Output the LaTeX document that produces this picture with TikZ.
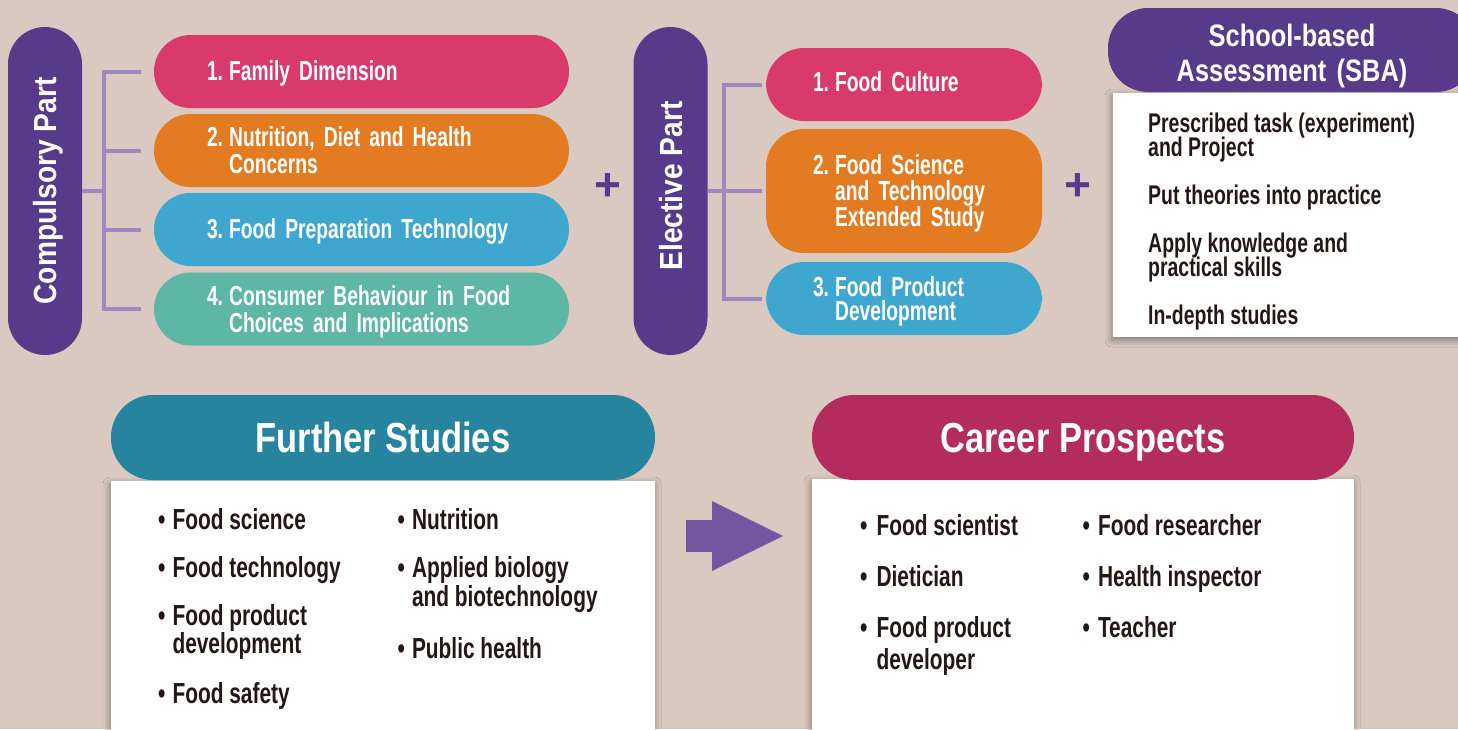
\documentclass[tikz,border=0pt]{standalone}
\usepackage{fontspec}
\usepackage{array}
\setmainfont{Liberation Sans}
\newfontfamily\pillfont{Liberation Sans}[FakeStretch=0.70, WordSpace=0.85]
\newfontfamily\condfont{Liberation Sans}[FakeStretch=0.72]
\newfontfamily\headfont{Liberation Sans}[FakeStretch=0.82]
\newfontfamily\sidefont{Liberation Sans}[FakeStretch=0.88]
\usetikzlibrary{arrows.meta,calc,shadows.blur}

\definecolor{paper}{HTML}{D9C9C0}
\definecolor{partpurple}{HTML}{573A8A}
\definecolor{linkpurple}{HTML}{9D89C0}
\definecolor{itempink}{HTML}{D83A6C}
\definecolor{itemorange}{HTML}{E27B21}
\definecolor{itemblue}{HTML}{3FA7CF}
\definecolor{itemteal}{HTML}{5DB6A6}
\definecolor{studyteal}{HTML}{26849F}
\definecolor{careerred}{HTML}{B42B5D}
\definecolor{arrowpurple}{HTML}{7355A0}
\definecolor{ink}{HTML}{231815}

% left column whose cells take no height, so rows sit exactly one leading apart
\newcolumntype{Z}{>{\setbox0=\hbox\bgroup}l<{\egroup\ht0=0pt\dp0=0pt\box0}}
% numbered entry with hanging continuation lines
\newcommand\numline[2]{\begin{tabular}[t]{@{}Z@{\hspace{0.22em}}Z@{}}#1&#2\end{tabular}}
% bulleted list
\newenvironment{dotlist}[1]{\begin{tabular}[t]{@{}Z@{\hspace{#1}}Z@{}}}{\end{tabular}}

\begin{document}
\begin{tikzpicture}[x=1pt,y=-1pt,
  pillbase/.style={rectangle, inner sep=0pt, outer sep=0pt},
  sidepill/.style={pillbase, fill=partpurple, rounded corners=37pt,
    minimum width=74pt, minimum height=328pt, text=white,
    font=\sidefont\bfseries\fontsize{32}{32}\selectfont},
  citem/.style={pillbase, rounded corners=36.5pt, minimum width=415pt,
    minimum height=73pt, text width=309pt, inner xsep=53pt, align=left,
    anchor=west, text=white, font=\pillfont\bfseries\fontsize{27.5}{27}\selectfont},
  eitem/.style={pillbase, rounded corners=38pt, minimum width=276pt,
    minimum height=73pt, text width=182pt, inner xsep=47pt, align=left,
    anchor=west, text=white, font=\pillfont\bfseries\fontsize{27.5}{26}\selectfont},
  bracket/.style={draw=linkpurple, line width=4pt},
  plus/.style={text=partpurple, font=\bfseries\fontsize{46}{46}\selectfont, inner sep=0pt},
  wbox/.style={pillbase, fill=white, anchor=north west,
    blur shadow={shadow xshift=-1pt, shadow yshift=-3pt, shadow blur radius=7pt, shadow opacity=40}},
  headpill/.style={pillbase, rounded corners=42pt, minimum height=85pt,
    anchor=north west, text=white, text depth=0pt,
    font=\headfont\bfseries\fontsize{42}{42}\selectfont},
  listtxt/.style={inner sep=0pt, anchor=north west, text=ink,
    font=\condfont\bfseries\fontsize{29}{28}\selectfont},
  sbatxt/.style={inner sep=0pt, anchor=north west, text=ink,
    font=\condfont\bfseries\fontsize{27}{24}\selectfont},
  bigarrow/.style={draw=arrowpurple, line width=32pt,
    -{Triangle[length=73pt, width=64pt]}}
]
\useasboundingbox (0,0) rectangle (1458,729);
\begin{scope}
\clip (0,0) rectangle (1458,729);
\fill[paper] (0,0) rectangle (1458,729);

% ---- compulsory part ----
\node[sidepill] (comp) at (45,191)
  {\rotatebox{90}{\raisebox{0pt}[\height][0pt]{Compulsory Part}}};
\node[citem, fill=itempink, text depth=0pt] (c1) at (154,71.5)
  {\numline{1.}{Family Dimension}};
\node[citem, fill=itemorange, text depth=26.2pt] (c2) at (154,150.5)
  {\numline{2.}{Nutrition, Diet and Health\\&Concerns}};
\node[citem, fill=itemblue, text depth=0pt] (c3) at (154,229.5)
  {\numline{3.}{Food Preparation Technology}};
\node[citem, fill=itemteal, text depth=26.2pt] (c4) at (154,309)
  {\numline{4.}{Consumer Behaviour in Food\\&Choices and Implications}};
\coordinate (cj) at (104,191);
\draw[bracket] (comp.east) -- (cj);
\foreach \n in {c1,c2,c3,c4}
  \draw[bracket, shorten >=13pt] (cj) |- (\n.west);

\node[plus] (p1) at (608,187) {+};

% ---- elective part ----
\node[sidepill] (elec) at (670.5,191)
  {\rotatebox{90}{\raisebox{0pt}[\height][0pt]{\hspace{10pt}Elective Part}}};
\node[eitem, fill=itempink, text depth=5pt] (e1) at (766,84.5)
  {\numline{1.}{Food Culture}};
\node[eitem, fill=itemorange, minimum height=124pt, text depth=50.5pt] (e2) at (766,191)
  {\numline{2.}{Food Science\\&and Technology\\&Extended Study}};
\node[eitem, fill=itemblue, text depth=21pt,
  font=\pillfont\bfseries\fontsize{27.5}{24}\selectfont] (e3) at (766,298.5)
  {\numline{3.}{Food Product\\&Development}};
\coordinate (ej) at (724,191);
\draw[bracket] (elec.east) -- (ej);
\foreach \n in {e1,e2,e3}
  \draw[bracket, shorten >=4pt] (ej) |- (\n.west);

\node[plus] (p2) at (1078,187) {+};

% ---- school-based assessment ----
\node[wbox, minimum width=360pt, minimum height=244pt] (sbabox) at (1113,93) {};
\node[pillbase, fill=partpurple, rounded corners=40pt, minimum width=368pt,
  minimum height=84pt, anchor=north west, text=white, align=center,
  text width=368pt, text depth=30pt,
  font=\headfont\bfseries\fontsize{31}{35}\selectfont] (sbahead) at (1108,8)
  {School-based\\Assessment (SBA)};
\node[sbatxt] (sbalist) at (1148,115.7) {\begin{tabular}[t]{@{}Z@{}}
  Prescribed task (experiment)\\
  and Project\\[24pt]
  Put theories into practice\\[24pt]
  Apply knowledge and\\
  practical skills\\[24pt]
  In-depth studies
\end{tabular}};

% ---- further studies ----
\node[wbox, minimum width=544pt, minimum height=260pt] (fsbox) at (111,481) {};
\node[headpill, fill=studyteal, minimum width=544pt] (fshead) at (111,395) {Further Studies};
\node[listtxt] (fsleft) at (158,509.8) {\begin{dotlist}{7pt}
  \textbullet & Food science\\[20pt]
  \textbullet & Food technology\\[20pt]
  \textbullet & Food product\\
   & development\\[22pt]
  \textbullet & Food safety
\end{dotlist}};
\node[listtxt] (fsright) at (397.5,509.8) {\begin{dotlist}{7pt}
  \textbullet & Nutrition\\[20pt]
  \textbullet & Applied biology\\[1pt]
   & and biotechnology\\[24pt]
  \textbullet & Public health
\end{dotlist}};

% ---- career prospects ----
\node[wbox, minimum width=542pt, minimum height=262pt] (cpbox) at (812,479) {};
\node[headpill, fill=careerred, minimum width=542pt] (cphead) at (812,395) {Career Prospects};
\node[listtxt] (cpleft) at (860,515.8) {\begin{dotlist}{9pt}
  \textbullet & Food scientist\\[23pt]
  \textbullet & Dietician\\[23pt]
  \textbullet & Food product\\[4pt]
   & developer
\end{dotlist}};
\node[listtxt] (cpright) at (1082.5,515.8) {\begin{dotlist}{8pt}
  \textbullet & Food researcher\\[23pt]
  \textbullet & Health inspector\\[23pt]
  \textbullet & Teacher
\end{dotlist}};

% ---- arrow from studies to careers ----
\coordinate (arrowrow) at (0,536);
\draw[bigarrow, shorten <=31pt, shorten >=27pt]
  (fsbox.east |- arrowrow) -- (cpbox.west |- arrowrow);
\end{scope}
\end{tikzpicture}
\end{document}
